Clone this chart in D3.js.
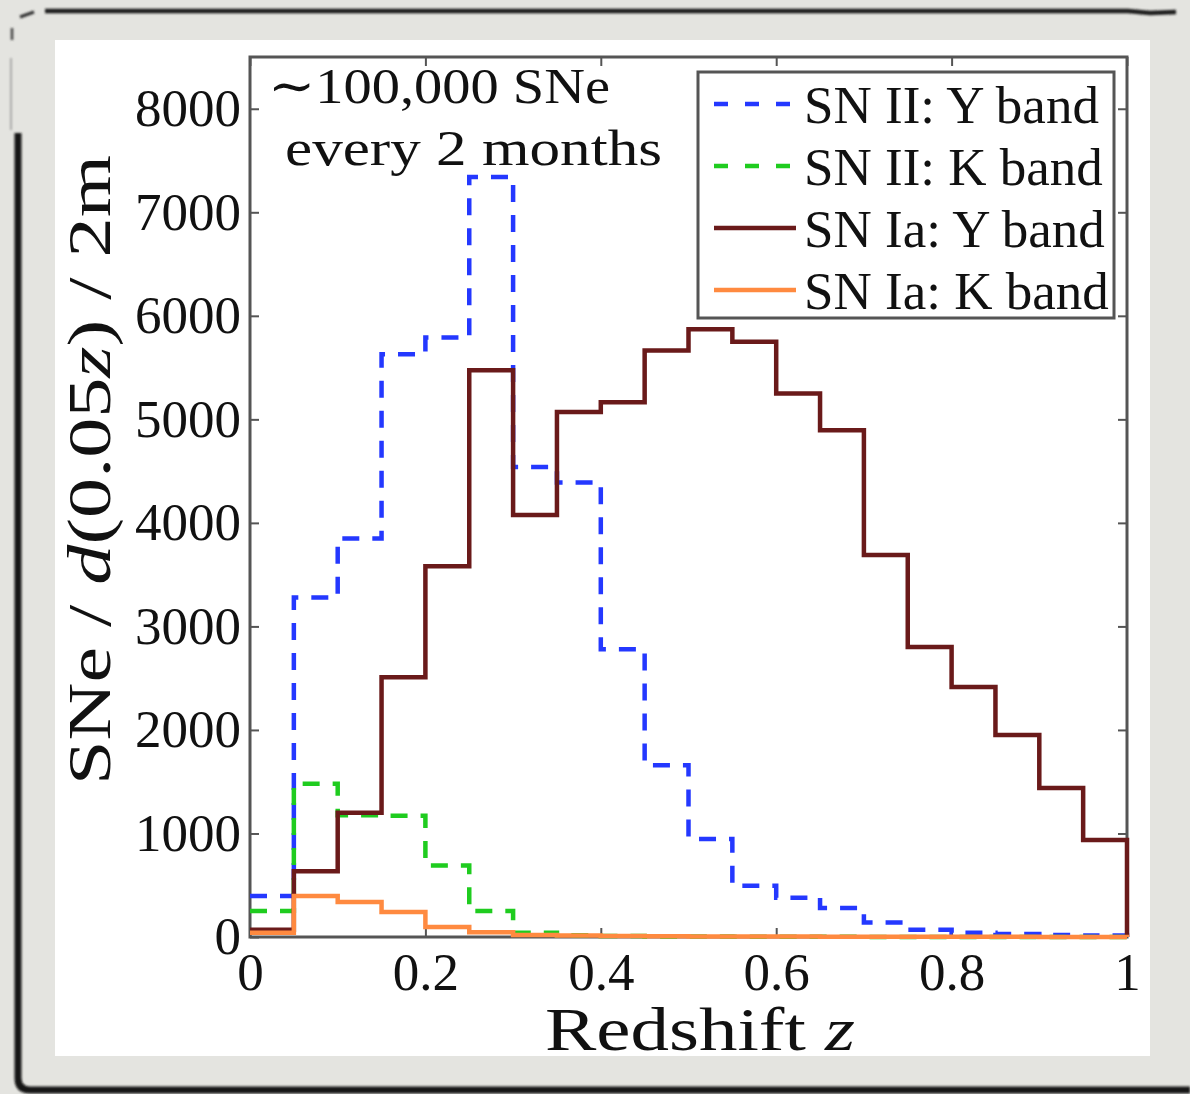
<!DOCTYPE html>
<html>
<head>
<meta charset="utf-8">
<script src="https://cdn.jsdelivr.net/npm/d3@7"></script>
<style>
  html, body { margin: 0; padding: 0; background: #e4e4e0; }
  svg { display: block; }
  text { font-family: "Liberation Serif", "DejaVu Serif", serif; fill: #111; }
</style>
</head>
<body>
<svg id="chart" width="1190" height="1094"></svg>
<script>
// Redshift bins of width 0.05 (left edges)
const binEdges = [0, 0.05, 0.1, 0.15, 0.2, 0.25, 0.3, 0.35, 0.4, 0.45,
                  0.5, 0.55, 0.6, 0.65, 0.7, 0.75, 0.8, 0.85, 0.9, 0.95];

// SNe per d(0.05z) per 2 months, one value per bin
const snIIY  = [395, 3280, 3850, 5630, 5790, 7340, 4540, 4390, 2780, 1660,
                946, 495, 380, 280, 140, 70, 42, 30, 20, 14];
const snIIK  = [250, 1480, 1175, 1170, 690, 250, 42, 18, 10, 6,
                4, 3, 2, 2, 1, 1, 1, 1, 1, 1];
const snIaY  = [70, 635, 1200, 2510, 3580, 5475, 4075, 5070, 5165, 5665,
                5870, 5750, 5250, 4895, 3690, 2800, 2415, 1950, 1440, 936];
const snIaK  = [40, 396, 338, 242, 97, 45, 20, 14, 10, 8,
                6, 5, 4, 3, 3, 2, 2, 2, 1, 1];

const seriesNames = ["SN II: Y band", "SN II: K band", "SN Ia: Y band", "SN Ia: K band"];
const xTicks = [0, 0.2, 0.4, 0.6, 0.8, 1];
const xTickLabels = ["0", "0.2", "0.4", "0.6", "0.8", "1"];
const yTicks = [0, 1000, 2000, 3000, 4000, 5000, 6000, 7000, 8000];
const annotation = ["\u223C100,000 SNe", "every 2 months"];

const series = [
  { name: seriesNames[0], values: snIIY, color: "#2438ff", dash: "17,13", width: 4.5 },
  { name: seriesNames[1], values: snIIK, color: "#1fcc1f", dash: "17,13", width: 4.5 },
  { name: seriesNames[2], values: snIaY, color: "#6a1a1a", dash: null,    width: 4.5 },
  { name: seriesNames[3], values: snIaK, color: "#ff8a40", dash: null,    width: 4.5 }
];

const svg = d3.select("#chart");

// ---- photo-style frame around the figure ----
const defs = svg.append("defs");
defs.append("filter").attr("id", "soft")
  .append("feGaussianBlur").attr("stdDeviation", 1.1);

const frame = svg.append("g").attr("filter", "url(#soft)").attr("fill", "none");
frame.append("path").attr("d", "M45,11 L1128,11 L1150,13 L1176,12")
  .attr("stroke", "#1c1c1c").attr("stroke-width", 4.5);
frame.append("path").attr("d", "M20,17 L34,12").attr("stroke", "#333").attr("stroke-width", 3);
frame.append("path").attr("d", "M12,28 L12,40").attr("stroke", "#444").attr("stroke-width", 2.5);
frame.append("path").attr("d", "M11,58 L11,130").attr("stroke", "#999").attr("stroke-width", 1.5);
frame.append("path").attr("d", "M18,133 L18,1078 Q18,1090 30,1090 L1190,1090")
  .attr("stroke", "#121212").attr("stroke-width", 7);

// white figure panel
svg.append("rect").attr("x", 55).attr("y", 40).attr("width", 1095).attr("height", 1016)
  .attr("fill", "#ffffff");

// ---- plot ----
const x = d3.scaleLinear().domain([0, 1]).range([250, 1127]);
const y = d3.scaleLinear().domain([0, 8500]).range([937, 57]);

const axisColor = "#555";
const plot = svg.append("g");

// axes box with inward ticks on all four sides
plot.append("rect")
  .attr("x", x(0)).attr("y", y(8500))
  .attr("width", x(1) - x(0)).attr("height", y(0) - y(8500))
  .attr("fill", "none").attr("stroke", axisColor).attr("stroke-width", 3);

const tickLen = 9;
const bottomAxis = d3.axisBottom(x).tickValues(xTicks).tickSize(-tickLen).tickFormat((d, i) => xTickLabels[i]).tickPadding(15);
const topAxis = d3.axisTop(x).tickValues(xTicks).tickSize(-tickLen).tickFormat("");
const leftAxis = d3.axisLeft(y).tickValues(yTicks).tickSize(-tickLen).tickFormat(d3.format("d")).tickPadding(9);
const rightAxis = d3.axisRight(y).tickValues(yTicks).tickSize(-tickLen).tickFormat("");

function styleAxis(g) {
  g.select(".domain").remove();
  g.selectAll(".tick line").attr("stroke", axisColor).attr("stroke-width", 2);
  g.selectAll(".tick text").attr("font-size", 53).attr("fill", "#111")
    .style("font-family", '"Liberation Serif", serif');
}
plot.append("g").attr("transform", `translate(0,${y(0)})`).call(bottomAxis).call(styleAxis)
  .selectAll(".tick text").attr("dy", "0.71em");
plot.append("g").attr("transform", `translate(0,${y(8500)})`).call(topAxis).call(styleAxis);
plot.append("g").attr("transform", `translate(${x(0)},0)`).call(leftAxis).call(styleAxis);
plot.append("g").attr("transform", `translate(${x(1)},0)`).call(rightAxis).call(styleAxis);

// histogram outlines drawn as steps
const stepLine = d3.line()
  .x(d => x(d[0]))
  .y(d => y(d[1]))
  .curve(d3.curveStepAfter);

series.forEach(s => {
  const pts = binEdges.map((e, i) => [e, s.values[i]]);
  pts.push([1, s.values[s.values.length - 1]]);
  pts.push([1, 0]);
  plot.append("path")
    .datum(pts)
    .attr("d", stepLine)
    .attr("fill", "none")
    .attr("stroke", s.color)
    .attr("stroke-width", s.width)
    .attr("stroke-dasharray", s.dash)
    .attr("stroke-linejoin", "miter");
});

// annotation
plot.append("text").attr("x", 268).attr("y", 103).attr("font-size", 50)
  .attr("textLength", 342).attr("lengthAdjust", "spacingAndGlyphs").text(annotation[0]);
plot.append("text").attr("x", 285).attr("y", 165).attr("font-size", 50)
  .attr("textLength", 377).attr("lengthAdjust", "spacingAndGlyphs").text(annotation[1]);

// legend
const lg = plot.append("g");
lg.append("rect").attr("x", 698).attr("y", 72).attr("width", 416).attr("height", 246)
  .attr("fill", "#fff").attr("stroke", axisColor).attr("stroke-width", 3);
series.forEach((s, i) => {
  const cy = 104 + i * 62;
  lg.append("line").attr("x1", 714).attr("x2", 796).attr("y1", cy).attr("y2", cy)
    .attr("stroke", s.color).attr("stroke-width", s.width)
    .attr("stroke-dasharray", s.dash ? "14,17" : null);
  lg.append("text").attr("x", 804).attr("y", cy + 19).attr("font-size", 53).text(s.name);
});

// axis titles
const xl = plot.append("text").attr("x", 545).attr("y", 1050).attr("font-size", 62)
  .attr("textLength", 310).attr("lengthAdjust", "spacingAndGlyphs");
xl.append("tspan").text("Redshift ");
xl.append("tspan").attr("font-style", "italic").text("z");

const yl = plot.append("text")
  .attr("transform", "translate(110,785) rotate(-90)")
  .attr("font-size", 62)
  .attr("textLength", 630).attr("lengthAdjust", "spacingAndGlyphs");
yl.append("tspan").text("SNe / ");
yl.append("tspan").attr("font-style", "italic").text("d");
yl.append("tspan").text("(0.05");
yl.append("tspan").attr("font-style", "italic").text("z");
yl.append("tspan").text(") / 2m");
</script>
</body>
</html>
